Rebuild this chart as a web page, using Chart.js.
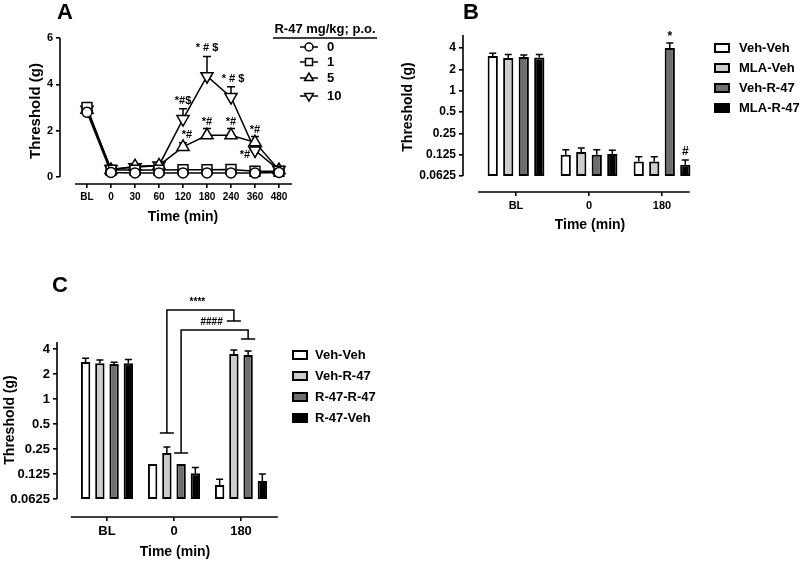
<!DOCTYPE html>
<html>
<head>
<meta charset="utf-8">
<title>Threshold panels</title>
<script src="https://cdn.jsdelivr.net/npm/chart.js@4.4.1/dist/chart.umd.min.js"></script>
<style>
  html, body { margin: 0; padding: 0; background: #fff; }
  #page { position: relative; width: 800px; height: 566px; overflow: hidden; font-family: "Liberation Sans", Arial, sans-serif; }
  #page canvas { position: absolute; }
  .tag { position: absolute; font-size: 22px; font-weight: bold; line-height: 22px; color: #000; }
</style>
</head>
<body>
<div id="page">
  <canvas id="chartA" width="400" height="250" style="left:0;top:0"></canvas>
  <canvas id="chartB" width="410" height="250" style="left:390px;top:0"></canvas>
  <canvas id="chartC" width="400" height="296" style="left:0;top:270px"></canvas>
  <div class="tag" style="left:57px;top:1px">A</div>
  <div class="tag" style="left:463px;top:1px">B</div>
  <div class="tag" style="left:52px;top:274px">C</div>
</div>
<script>
const FONT = '"Liberation Sans", Arial, sans-serif';

// ---- panel A : dose response over time ----
const timeLabelsA = ['BL', '0', '30', '60', '120', '180', '240', '360', '480'];
const doseLabelsA = ['0', '1', '5', '10'];
const dose0 = [2.8, 0.2, 0.18, 0.18, 0.18, 0.18, 0.18, 0.17, 0.2];
const dose0Err = [0.15, 0.03, 0.02, 0.02, 0.02, 0.02, 0.02, 0.02, 0.03];
const dose1 = [3.0, 0.3, 0.3, 0.3, 0.32, 0.32, 0.33, 0.25, 0.25];
const dose1Err = [0.1, 0.05, 0.05, 0.05, 0.05, 0.05, 0.05, 0.05, 0.05];
const dose5 = [2.9, 0.3, 0.47, 0.5, 1.3, 1.8, 1.8, 1.5, 0.3];
const dose5Err = [0.1, 0.05, 0.05, 0.05, 0.18, 0.3, 0.3, 0.25, 0.05];
const dose10 = [2.9, 0.35, 0.42, 0.5, 2.5, 4.35, 3.45, 1.15, 0.3];
const dose10Err = [0.1, 0.05, 0.05, 0.05, 0.45, 0.85, 0.45, 0.2, 0.08];
const yTicksA = [0, 2, 4, 6];

// ---- panels B and C : bar groups on a log2 axis ----
const timeLabelsBC = ['BL', '0', '180'];
const groupsB = ['Veh-Veh', 'MLA-Veh', 'Veh-R-47', 'MLA-R-47'];
const vehVehB = [3.1, 0.125, 0.1];
const vehVehBErr = [0.28, 0.022, 0.017];
const mlaVehB = [2.9, 0.137, 0.1];
const mlaVehBErr = [0.35, 0.018, 0.017];
const vehR47B = [3.0, 0.125, 4.0];
const vehR47BErr = [0.2, 0.022, 0.7];
const mlaR47B = [2.95, 0.128, 0.09];
const mlaR47BErr = [0.3, 0.017, 0.015];

const groupsC = ['Veh-Veh', 'Veh-R-47', 'R-47-R-47', 'R-47-Veh'];
const vehVehC = [2.8, 0.165, 0.092];
const vehVehCErr = [0.3, 0, 0.016];
const vehR47C = [2.7, 0.224, 3.48];
const vehR47CErr = [0.25, 0.04, 0.42];
const r47r47C = [2.65, 0.165, 3.4];
const r47r47CErr = [0.12, 0, 0.4];
const r47VehC = [2.7, 0.128, 0.103];
const r47VehCErr = [0.3, 0.022, 0.022];

const logTicks = [0.0625, 0.125, 0.25, 0.5, 1, 2, 4];
const barBase = 0.0625;

// styles
const barFills = ['#ffffff', '#cdcdcd', '#6e6e6e', '#000000'];
const shapesA = [
  { style: 'circle', rot: 0, r: 5, lr: 4 },
  { style: 'rect', rot: 0, r: 7, lr: 5 },
  { style: 'triangle', rot: 0, r: 7, lr: 5 },
  { style: 'triangle', rot: 180, r: 7, lr: 5 }
];

function bold(size) { return { family: FONT, size: size, weight: 'bold' }; }

function tickMarks() {
  return { display: true, drawOnChartArea: false, drawTicks: true, tickLength: 4,
           color: '#000', tickColor: '#000', lineWidth: 1.6, tickWidth: 1.6, offset: false };
}

function xScale(labels, min, max, height, size) {
  return {
    type: 'linear', min: min, max: max, bounds: 'data', offset: false,
    afterBuildTicks: s => { s.ticks = labels.map((l, i) => ({ value: i })); },
    afterFit: s => { s.height = height; },
    ticks: { autoSkip: false, maxRotation: 0, minRotation: 0, padding: 3, color: '#000',
             font: bold(size), callback: v => labels[v] },
    grid: tickMarks(),
    border: { display: false },
    title: { display: true, text: 'Time (min)', color: '#000', font: bold(14), padding: { top: 4, bottom: 4 } }
  };
}

function yScale(type, min, max, ticks, width, size, titleSize, titlePad) {
  return {
    type: type, min: min, max: max, bounds: 'data', beginAtZero: false,
    afterBuildTicks: s => { s.ticks = ticks.map(v => ({ value: v })); },
    afterFit: s => { s.width = width; },
    ticks: { padding: 3, color: '#000', font: bold(size), callback: v => String(v) },
    grid: tickMarks(),
    border: { display: false },
    title: { display: true, text: 'Threshold (g)', color: '#000', font: bold(titleSize),
             padding: { top: titlePad, bottom: titlePad } }
  };
}

// detached axis lines (GraphPad style)
function axesPlugin(yFrom, yTo, xFrom, xTo) {
  return {
    id: 'axes',
    afterDraw(chart) {
      const { ctx, chartArea } = chart;
      const { x, y } = chart.scales;
      ctx.save();
      ctx.strokeStyle = '#000';
      ctx.lineWidth = 1.6;
      ctx.beginPath();
      ctx.moveTo(chartArea.left, y.getPixelForValue(yFrom));
      ctx.lineTo(chartArea.left, y.getPixelForValue(yTo));
      ctx.moveTo(x.getPixelForValue(xFrom), chartArea.bottom);
      ctx.lineTo(x.getPixelForValue(xTo), chartArea.bottom);
      ctx.stroke();
      ctx.restore();
    }
  };
}

// upward error bars (mean + SEM)
function errorBarPlugin(values, errs, capHalf, after) {
  const draw = chart => {
    const { ctx } = chart;
    const y = chart.scales.y;
    ctx.save();
    ctx.strokeStyle = '#000';
    ctx.lineWidth = 1.5;
    values.forEach((vals, k) => {
      const meta = chart.getDatasetMeta(k);
      vals.forEach((v, i) => {
        const e = errs[k][i];
        if (!e) return;
        const el = meta.data[i];
        const y0 = y.getPixelForValue(v);
        const y1 = y.getPixelForValue(v + e);
        ctx.beginPath();
        ctx.moveTo(el.x, y0);
        ctx.lineTo(el.x, y1);
        ctx.moveTo(el.x - capHalf, y1);
        ctx.lineTo(el.x + capHalf, y1);
        ctx.stroke();
      });
    });
    ctx.restore();
  };
  return after ? { id: 'errorBars', afterDatasetsDraw: draw } : { id: 'errorBars', beforeDatasetsDraw: draw };
}

// significance symbols placed over the error bars
function notePlugin(notes, values, errs, size) {
  return {
    id: 'notes',
    afterDatasetsDraw(chart) {
      const { ctx } = chart;
      const y = chart.scales.y;
      ctx.save();
      ctx.fillStyle = '#000';
      ctx.font = 'bold ' + size + 'px ' + FONT;
      ctx.textAlign = 'center';
      ctx.textBaseline = 'middle';
      notes.forEach(n => {
        const el = chart.getDatasetMeta(n.ds).data[n.i];
        const v = values[n.ds][n.i];
        const base = n.below ? y.getPixelForValue(v) : y.getPixelForValue(v + errs[n.ds][n.i]);
        ctx.fillText(n.text, el.x + (n.dx || 0), base + n.dy);
      });
      ctx.restore();
    }
  };
}

function boxLegend(names, x, textX, rows) {
  return {
    id: 'boxLegend',
    afterDraw(chart) {
      const { ctx } = chart;
      ctx.save();
      ctx.font = 'bold 13px ' + FONT;
      ctx.textAlign = 'left';
      ctx.textBaseline = 'middle';
      names.forEach((name, k) => {
        const yy = rows[k];
        ctx.fillStyle = barFills[k];
        ctx.fillRect(x, yy - 4, 14, 8);
        ctx.strokeStyle = '#000';
        ctx.lineWidth = 2;
        ctx.strokeRect(x, yy - 4, 14, 8);
        ctx.fillStyle = '#000';
        ctx.fillText(name, textX, yy);
      });
      ctx.restore();
    }
  };
}

function barSets(names, series) {
  return series.map((vals, k) => ({
    label: names[k],
    data: vals.map((v, i) => ({ x: i, y: [barBase, v] })),
    backgroundColor: barFills[k],
    borderColor: '#000',
    borderWidth: 2,
    borderSkipped: false,
    barPercentage: 0.66,
    categoryPercentage: 0.85
  }));
}

const quiet = { legend: { display: false }, tooltip: { enabled: false } };

// ---------- chart A ----------
const seriesA = [dose0, dose1, dose5, dose10];
const errA = [dose0Err, dose1Err, dose5Err, dose10Err];
const notesA = [
  { ds: 3, i: 4, text: '*#$', dy: -8 },
  { ds: 3, i: 5, text: '* # $', dy: -9 },
  { ds: 3, i: 6, text: '* # $', dy: -8, dx: 2 },
  { ds: 2, i: 4, text: '*#', dy: -8, dx: 4 },
  { ds: 2, i: 5, text: '*#', dy: -6 },
  { ds: 2, i: 6, text: '*#', dy: -6 },
  { ds: 2, i: 7, text: '*#', dy: -7 },
  { ds: 3, i: 7, text: '*#', below: true, dx: -10, dy: 5 }
];

const legendA = {
  id: 'legendA',
  afterDraw(chart) {
    const { ctx } = chart;
    ctx.save();
    ctx.fillStyle = '#000';
    ctx.strokeStyle = '#000';
    ctx.font = 'bold 13px ' + FONT;
    ctx.textAlign = 'center';
    ctx.textBaseline = 'middle';
    ctx.fillText('R-47 mg/kg; p.o.', 325, 29);
    ctx.lineWidth = 1.6;
    ctx.beginPath();
    ctx.moveTo(273, 38);
    ctx.lineTo(377, 38);
    ctx.stroke();
    const rows = [47, 62, 78, 96];
    ctx.textAlign = 'left';
    doseLabelsA.forEach((lab, k) => {
      const yy = rows[k];
      ctx.lineWidth = 1.5;
      ctx.beginPath();
      ctx.moveTo(300, yy);
      ctx.lineTo(318, yy);
      ctx.stroke();
      ctx.fillStyle = '#fff';
      Chart.helpers.drawPoint(ctx, { pointStyle: shapesA[k].style, rotation: shapesA[k].rot,
                                     radius: shapesA[k].lr, borderWidth: 1.5 }, 309, yy);
      ctx.fillStyle = '#000';
      ctx.fillText(lab, 327, yy);
    });
    ctx.restore();
  }
};

new Chart(document.getElementById('chartA'), {
  type: 'line',
  data: {
    datasets: seriesA.map((vals, k) => ({
      label: doseLabelsA[k],
      data: vals.map((v, i) => ({ x: i, y: v })),
      borderColor: '#000',
      borderWidth: 1.5,
      tension: 0,
      pointStyle: shapesA[k].style,
      pointRotation: shapesA[k].rot,
      pointRadius: shapesA[k].r,
      pointBackgroundColor: '#fff',
      pointBorderColor: '#000',
      pointBorderWidth: 1.5
    }))
  },
  options: {
    responsive: false,
    animation: false,
    layout: { padding: { left: 23, right: 94, top: 38, bottom: 20 } },
    plugins: quiet,
    scales: {
      x: xScale(timeLabelsA, -1.125, 9.125, 46, 10),
      y: yScale('linear', -0.3, 6, yTicksA, 37, 11, 15, 4)
    }
  },
  plugins: [axesPlugin(0, 6, -0.5, 8.54), errorBarPlugin(seriesA, errA, 4, false),
            notePlugin(notesA, seriesA, errA, 11), legendA]
});

// ---------- chart B ----------
const seriesB = [vehVehB, mlaVehB, vehR47B, mlaR47B];
const errB = [vehVehBErr, mlaVehBErr, vehR47BErr, mlaR47BErr];
const notesB = [
  { ds: 2, i: 2, text: '*', dy: -6 },
  { ds: 3, i: 2, text: '#', dy: -8 }
];

new Chart(document.getElementById('chartB'), {
  type: 'bar',
  data: { datasets: barSets(groupsB, seriesB) },
  options: {
    responsive: false,
    animation: false,
    layout: { padding: { left: 6, right: 83, top: 22, bottom: 12 } },
    plugins: quiet,
    scales: {
      x: xScale(timeLabelsBC, -0.726, 2.753, 46, 11),
      y: yScale('logarithmic', 0.0372, 9.32, logTicks, 67, 12, 14, 4)
    }
  },
  plugins: [axesPlugin(0.0625, 6.1, -0.52, 2.38), errorBarPlugin(seriesB, errB, 3.5, true),
            notePlugin(notesB, seriesB, errB, 12), boxLegend(groupsB, 325, 349, [48, 68, 88, 108])]
});

// ---------- chart C ----------
const seriesC = [vehVehC, vehR47C, r47r47C, r47VehC];
const errC = [vehVehCErr, vehR47CErr, r47r47CErr, r47VehCErr];
const bracketsC = [
  { text: '****', ds: 1, from: 1, to: 2, top: 11.8, leftEnd: 0.39, rightEnd: 8.7 },
  { text: '####', ds: 2, from: 1, to: 2, top: 6.77, leftEnd: 0.224, rightEnd: 5.3 }
];

const bracketPlugin = {
  id: 'brackets',
  afterDatasetsDraw(chart) {
    const { ctx } = chart;
    const y = chart.scales.y;
    ctx.save();
    ctx.strokeStyle = '#000';
    ctx.fillStyle = '#000';
    ctx.lineWidth = 1.5;
    ctx.font = 'bold 10px ' + FONT;
    ctx.textAlign = 'center';
    ctx.textBaseline = 'middle';
    bracketsC.forEach(b => {
      const meta = chart.getDatasetMeta(b.ds);
      const x0 = meta.data[b.from].x;
      const x1 = meta.data[b.to].x;
      const yt = y.getPixelForValue(b.top);
      const yl = y.getPixelForValue(b.leftEnd);
      const yr = y.getPixelForValue(b.rightEnd);
      ctx.beginPath();
      ctx.moveTo(x0, yl);
      ctx.lineTo(x0, yt);
      ctx.lineTo(x1, yt);
      ctx.lineTo(x1, yr);
      ctx.moveTo(x0 - 7, yl);
      ctx.lineTo(x0 + 7, yl);
      ctx.moveTo(x1 - 7, yr);
      ctx.lineTo(x1 + 7, yr);
      ctx.stroke();
      ctx.fillText(b.text, (x0 + x1) / 2 - 3, yt - 8);
    });
    ctx.restore();
  }
};

new Chart(document.getElementById('chartC'), {
  type: 'bar',
  data: { datasets: barSets(groupsC, seriesC) },
  options: {
    responsive: false,
    animation: false,
    layout: { padding: { left: 0, right: 107, top: 53, bottom: 1 } },
    plugins: quiet,
    scales: {
      x: xScale(timeLabelsBC, -0.746, 2.776, 48, 13),
      y: yScale('logarithmic', 0.038, 8.24, logTicks, 57, 13, 14, 2)
    }
  },
  plugins: [axesPlugin(0.0625, 4.85, -0.54, 2.55), errorBarPlugin(seriesC, errC, 3.5, true),
            bracketPlugin, boxLegend(groupsC, 293, 315, [85, 106, 127, 148])]
});
</script>
</body>
</html>
